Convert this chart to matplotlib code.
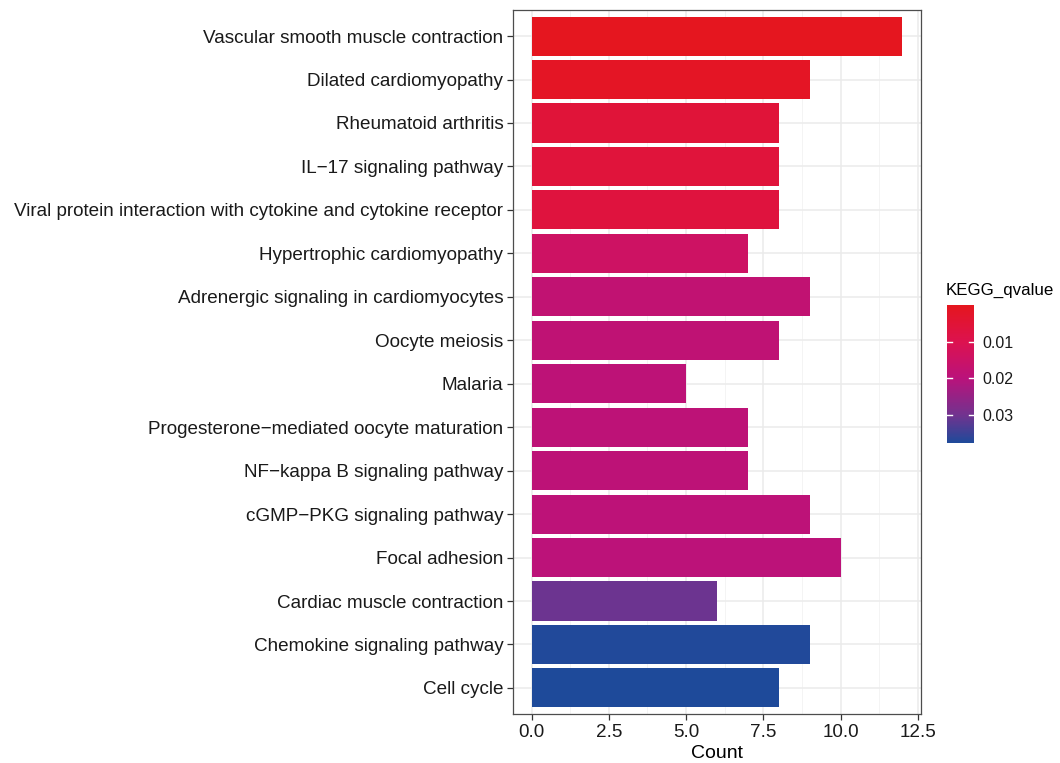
import numpy as np
import matplotlib
matplotlib.use("Agg")
import matplotlib.pyplot as plt
from matplotlib.colors import LinearSegmentedColormap, Normalize

plt.rcParams['font.family'] = ['Liberation Sans', 'DejaVu Sans']

pathways = [
    "Vascular smooth muscle contraction",
    "Dilated cardiomyopathy",
    "Rheumatoid arthritis",
    "IL\u221217 signaling pathway",
    "Viral protein interaction with cytokine and cytokine receptor",
    "Hypertrophic cardiomyopathy",
    "Adrenergic signaling in cardiomyocytes",
    "Oocyte meiosis",
    "Malaria",
    "Progesterone\u2212mediated oocyte maturation",
    "NF\u2212kappa B signaling pathway",
    "cGMP\u2212PKG signaling pathway",
    "Focal adhesion",
    "Cardiac muscle contraction",
    "Chemokine signaling pathway",
    "Cell cycle",
]
counts = [12, 9, 8, 8, 8, 7, 9, 8, 5, 7, 7, 9, 10, 6, 9, 8]
qvalues = [0.0002, 0.0015, 0.0055, 0.006, 0.0065, 0.0145, 0.018, 0.0185,
           0.019, 0.019, 0.019, 0.0192, 0.0195, 0.0305, 0.0372, 0.0376]

x_ticks = [0.0, 2.5, 5.0, 7.5, 10.0, 12.5]
cbar_ticks = [0.01, 0.02, 0.03]

# red (low q) -> magenta -> blue (high q)
q_hi = max(qvalues)
anchors = [(0.0, "#E5161E"), (0.27, "#DC1250"), (0.53, "#BA127B"),
           (0.80, "#71338F"), (1.0, "#1E4A9A")]
cmap = LinearSegmentedColormap.from_list("kegg_q", anchors)
norm = Normalize(vmin=0.0, vmax=q_hi)

fig = plt.figure(figsize=(10.6, 7.63), dpi=100)
ax = fig.add_axes([513/1060, 1 - 714/763, (921-513)/1060, (714-10)/763])

n = len(pathways)
ypos = np.arange(n)
ax.barh(ypos, counts, height=0.9, color=cmap(norm(np.array(qvalues))),
        zorder=3, linewidth=0)

ax.set_ylim(n - 1 + 0.6, -0.6)
ax.set_xlim(-0.6, 12.6)
ax.set_yticks(ypos)
ax.set_yticklabels(pathways, fontsize=13.6, color="#1A1A1A")
ax.set_xticks(x_ticks)
ax.set_xticklabels([f"{t:.1f}" for t in x_ticks], fontsize=13.6, color="#1A1A1A")
ax.set_xticks(np.arange(1.25, 12.6, 2.5), minor=True)
ax.set_xlabel("Count", fontsize=14, color="#000000", labelpad=3)

ax.grid(True, which="major", color="#EBEBEB", linewidth=1.1, zorder=0)
ax.grid(True, which="minor", axis="x", color="#F3F3F3", linewidth=0.6, zorder=0)
ax.set_axisbelow(True)
for s in ax.spines.values():
    s.set_color("#4D4D4D")
    s.set_linewidth(0.9)
ax.tick_params(axis="both", which="major", length=4, width=0.9, color="#333333", pad=3)
ax.tick_params(axis="x", which="minor", length=0)

# colour bar legend: small q at the top
cax = fig.add_axes([947/1060, 1 - 443/763, 27/1060, (443-305)/763])
levels = np.linspace(0.0, q_hi, 301)
cax.pcolormesh([0, 1], levels, levels[:-1].reshape(-1, 1) + q_hi / 600,
               cmap=cmap, norm=norm, shading="flat")
cax.set_xlim(0, 1)
cax.set_ylim(q_hi, 0.0)
for t in cbar_ticks:
    cax.plot([0, 0.2], [t, t], color="white", lw=1)
    cax.plot([0.8, 1], [t, t], color="white", lw=1)
cax.set_xticks([])
cax.yaxis.tick_right()
cax.set_yticks(cbar_ticks)
cax.set_yticklabels([f"{t:.2f}" for t in cbar_ticks], fontsize=11.5, color="#1A1A1A")
cax.tick_params(axis="y", length=0, pad=6)
for s in cax.spines.values():
    s.set_visible(False)
fig.text(946/1060, 1 - 290/763, "KEGG_qvalue", fontsize=12.2, va="center", ha="left")

fig.savefig("out.png", dpi=100, facecolor="white")
